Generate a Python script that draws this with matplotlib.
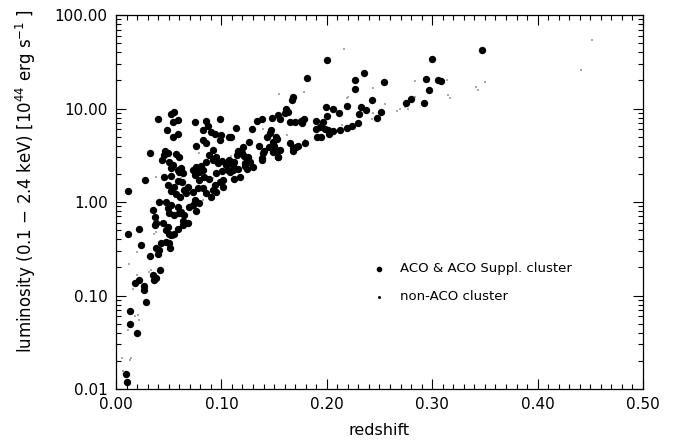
import numpy as np
import matplotlib
matplotlib.use('Agg')
import matplotlib.pyplot as plt
from matplotlib.ticker import MultipleLocator, LogLocator, FuncFormatter, NullFormatter

# ACO & ACO Suppl. clusters: redshift, luminosity [1e44 erg/s]
aco_z = [
    0.347, 0.2995, 0.2356, 0.2265, 0.2268, 0.2543, 0.2944, 0.3058, 0.3084, 0.2966,
    0.2429, 0.2195, 0.2321, 0.2372, 0.2303, 0.2511, 0.2473, 0.2799, 0.2755, 0.2926,
    0.2299, 0.2242, 0.2195, 0.2125,
    0.1999, 0.1809, 0.1676, 0.167, 0.1613, 0.1635, 0.1603, 0.154, 0.1556, 0.1483,
    0.1388, 0.134, 0.1139, 0.1287, 0.1091, 0.147, 0.146, 0.143, 0.1515, 0.153,
    0.1262, 0.1357, 0.1208, 0.116, 0.1145, 0.1193, 0.1214, 0.1452, 0.150, 0.1493,
    0.1515, 0.1493, 0.1556, 0.1398, 0.1407, 0.124, 0.1388, 0.1534, 0.1651, 0.1698,
    0.1755, 0.1784, 0.1768, 0.1651, 0.1705, 0.173, 0.1682, 0.1796, 0.1898, 0.1999,
    0.199, 0.2062, 0.2113, 0.2062, 0.2021, 0.2014, 0.1935, 0.1898, 0.1967, 0.191,
    0.1942, 0.1983,
    0.0395, 0.0522, 0.0553, 0.0591, 0.0544, 0.0481, 0.0591, 0.0538, 0.0752, 0.0854,
    0.0828, 0.087, 0.0987, 0.0904, 0.0942, 0.0996, 0.0987, 0.1069, 0.0828, 0.0854,
    0.0759, 0.0326, 0.0468, 0.0452, 0.049, 0.0569, 0.0601, 0.0433, 0.0506, 0.0544,
    0.0522, 0.0585, 0.0617, 0.0601, 0.0633, 0.0917, 0.0885, 0.0854, 0.0923, 0.0949,
    0.0965, 0.1006, 0.1044, 0.1075, 0.11, 0.1122, 0.1113, 0.106, 0.0759, 0.0806,
    0.0828, 0.0785, 0.0733, 0.0746, 0.079, 0.0838, 0.0879, 0.0949, 0.1006, 0.1018,
    0.0987, 0.0936, 0.1012, 0.0278, 0.0111, 0.0458, 0.0522, 0.0585, 0.0626, 0.049,
    0.0553, 0.0522, 0.0569, 0.0607, 0.0648, 0.068, 0.0664, 0.0727, 0.0775, 0.0822,
    0.0854, 0.0917, 0.0901, 0.0949, 0.0752, 0.079,
    0.0411, 0.0474, 0.0522, 0.049, 0.0506, 0.0585, 0.0617, 0.0648, 0.0601, 0.0553,
    0.0696, 0.0733, 0.0759, 0.0354, 0.0373, 0.038, 0.0373, 0.0443, 0.049, 0.0474,
    0.0506, 0.0522, 0.0553, 0.0585, 0.0633, 0.0633, 0.068, 0.0117, 0.0215, 0.0237,
    0.0427, 0.0474, 0.0506, 0.038, 0.0395, 0.0411, 0.0512, 0.0326, 0.042, 0.0348,
    0.0363, 0.038, 0.0221, 0.018, 0.0269, 0.0269, 0.0285, 0.0136,
    0.0136, 0.0196, 0.0098, 0.0107,
    0.1107, 0.1082, 0.116, 0.1224, 0.124, 0.1224, 0.1271, 0.1303, 0.1256, 0.1123,
    0.1176, 0.1382, 0.154, 0.1682,
]
aco_lum = [
    42.6, 33.8, 23.8, 20.0, 16.2, 19.1, 20.8, 20.0, 19.6, 15.7,
    12.2, 10.6, 10.3, 9.64, 8.67, 9.1, 7.85, 12.7, 11.4, 11.4,
    6.95, 6.5, 6.23, 5.89,
    33.0, 21.2, 13.3, 12.4, 10.0, 9.2, 9.0, 8.6, 7.7, 7.9,
    7.7, 7.3, 6.2, 6.1, 4.92, 5.9, 5.5, 5.0, 5.0, 4.7,
    4.4, 3.94, 3.85, 3.48, 3.18, 3.31, 3.10, 3.85, 3.97, 4.4,
    3.6, 3.45, 3.6, 3.31, 3.48, 2.95, 2.93, 3.0, 7.2, 7.2,
    7.35, 7.8, 6.95, 4.24, 3.9, 4.0, 3.75, 4.3, 7.35, 8.3,
    10.4, 9.8, 8.95, 5.7, 5.3, 5.9, 6.4, 6.0, 7.1, 5.0,
    5.0, 6.1,
    7.7, 8.7, 9.2, 7.5, 7.1, 5.85, 5.4, 4.9, 7.1, 7.35,
    5.9, 6.5, 7.7, 5.55, 5.3, 5.2, 4.6, 4.9, 4.6, 4.24,
    3.97, 3.32, 3.54, 3.18, 3.37, 3.24, 3.05, 2.81, 2.70, 2.49,
    2.29, 2.2, 2.29, 2.09, 2.03, 3.6, 3.18, 2.70, 2.81, 3.05,
    2.59, 2.74, 2.49, 2.81, 2.59, 2.70, 2.2, 2.2, 2.39, 2.43,
    2.2, 2.11, 2.2, 1.93, 1.72, 1.86, 1.75, 2.03, 2.16, 1.72,
    1.65, 1.52, 1.44, 1.71, 1.30, 1.84, 1.90, 1.69, 1.65, 1.52,
    1.46, 1.32, 1.22, 1.14, 1.34, 1.44, 1.24, 1.29, 1.40, 1.40,
    1.24, 1.34, 1.14, 1.29, 1.05, 0.97,
    1.01, 1.01, 0.93, 0.86, 0.76, 0.89, 0.79, 0.73, 0.76, 0.73,
    0.89, 0.93, 0.81, 0.82, 0.69, 0.59, 0.57, 0.59, 0.54, 0.50,
    0.46, 0.44, 0.46, 0.52, 0.62, 0.57, 0.59, 0.46, 0.52, 0.35,
    0.36, 0.37, 0.36, 0.32, 0.28, 0.31, 0.32, 0.265, 0.187, 0.166,
    0.147, 0.153, 0.147, 0.135, 0.126, 0.115, 0.085, 0.068,
    0.049, 0.040, 0.0146, 0.0118,
    2.49, 2.11, 2.23, 2.43, 2.23, 2.59, 2.70, 2.35, 3.05, 1.75,
    1.86, 2.81, 3.05, 3.54,
]

# non-ACO clusters
non_z = [
    0.452, 0.441, 0.342, 0.35, 0.343, 0.315, 0.317, 0.2837, 0.284, 0.3137,
    0.2663, 0.2694, 0.2742, 0.2774, 0.2441, 0.2166, 0.2552, 0.2195, 0.018, 0.0215,
    0.011, 0.0057, 0.0142, 0.0133, 0.0063, 0.0363, 0.038, 0.0196, 0.012, 0.031,
    0.0332, 0.0196, 0.0164, 0.0206, 0.0553, 0.0633, 0.0822, 0.0785, 0.038, 0.0617,
    0.1091, 0.0917, 0.155, 0.1784, 0.2204, 0.1398, 0.162, 0.1793, 0.1904, 0.2141,
    0.2441, 0.2426,
]
non_lum = [
    54, 25.8, 17.1, 19.3, 15.8, 13.9, 13.0, 19.7, 13.3, 20.2,
    9.5, 10.0, 10.3, 10.0, 16.7, 43, 11.1, 13.1, 0.061, 0.055,
    0.043, 0.0213, 0.0213, 0.0205, 0.0156, 0.46, 0.48, 0.294, 0.217, 0.18,
    0.187, 0.166, 0.116, 0.062, 0.41, 0.54, 1.05, 3.32, 1.84, 1.79,
    3.1, 1.79, 14.2, 14.9, 13.4, 6.1, 5.2, 4.6, 6.95, 6.6,
    8.9, 7.7,
]

legend_labels = ['ACO & ACO Suppl. cluster', 'non-ACO cluster']

plt.rcParams['font.family'] = ['DejaVu Sans']
fig = plt.figure(figsize=(6.77, 4.43), dpi=100)
ax = fig.add_axes([0.1713, 0.1219, 0.7785, 0.8442])

ax.scatter(non_z, non_lum, s=1.2, marker='s', color='#aaaaaa', linewidths=0)
ax.scatter(aco_z, aco_lum, s=28, color='black', linewidths=0)

ax.set_yscale('log')
ax.set_xlim(0, 0.5)
ax.set_ylim(0.01, 100)

ax.xaxis.set_major_locator(MultipleLocator(0.1))
ax.xaxis.set_minor_locator(MultipleLocator(0.01))
ax.xaxis.set_major_formatter(FuncFormatter(lambda v, p: f'{v:.2f}'))
ax.yaxis.set_major_locator(LogLocator(base=10, numticks=10))
ax.yaxis.set_minor_locator(LogLocator(base=10, subs=np.arange(2, 10), numticks=10))
ax.yaxis.set_major_formatter(FuncFormatter(lambda v, p: f'{v:.2f}'))
ax.yaxis.set_minor_formatter(NullFormatter())

ax.tick_params(which='both', direction='in', top=True, right=True, labelsize=11, width=0.8)
ax.tick_params(which='major', length=7, pad=6)
ax.tick_params(which='minor', length=3.5)
for sp in ax.spines.values():
    sp.set_linewidth(0.9)

ax.set_xlabel('redshift', fontsize=11.5, labelpad=8)
ax.set_ylabel(r'luminosity (0.1 $-$ 2.4 keV) [10$^{44}$ erg s$^{-1}$ ]', fontsize=12)
ax.yaxis.set_label_coords(-0.148, 0.556)

# legend drawn by hand
ax.plot([0.499], [0.321], 'o', ms=3, color='black', transform=ax.transAxes)
ax.plot([0.499], [0.246], 's', ms=1, color='black', transform=ax.transAxes)
ax.text(0.539, 0.321, legend_labels[0], transform=ax.transAxes, va='center', fontsize=9.5)
ax.text(0.539, 0.246, legend_labels[1], transform=ax.transAxes, va='center', fontsize=9.5)

fig.savefig('out.png', dpi=100)
